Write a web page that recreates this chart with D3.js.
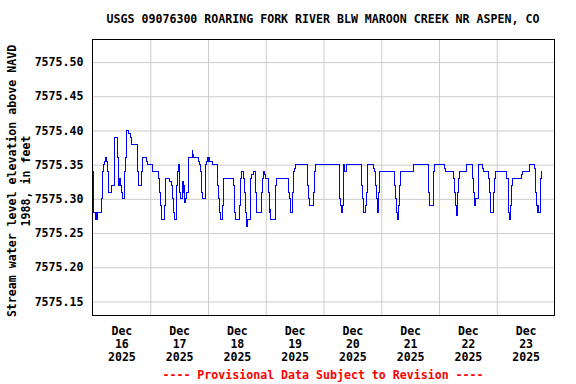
<!DOCTYPE html>
<html>
<head>
<meta charset="utf-8">
<script src="https://cdn.jsdelivr.net/npm/d3@7"></script>
<style>
  body { margin: 0; background: #fff; }
  text { font-family: "DejaVu Sans Mono", monospace; font-weight: bold; font-size: 11.6px; }
</style>
</head>
<body>
<div id="chart"></div>
<script>
// hours after Dec 16 2025 00:00 where the reading changes, and the reading (ft)
var obsHours = [
  0, 0.34, 0.62, 1.04, 1.31, 1.6, 1.87, 3.94, 4.08, 4.5, 5.05, 5.46, 5.88, 6.16, 6.57, 6.85,
  7.82, 9.34, 10.31, 10.72, 11.14, 11.55, 12.11, 12.52, 13.35, 13.77, 14.32, 15.01, 15.71, 16.12,
  18.61, 18.89, 19.03, 20.41, 20.69, 20.97, 22.49, 22.77, 24.98, 27.61, 27.89, 28.3, 28.58, 28.86,
  29.96, 30.24, 32.18, 33.0, 33.29, 33.56, 33.98, 34.95, 35.09, 35.36, 35.78, 36.06, 36.33, 36.75,
  37.3, 37.72, 37.99, 38.41, 38.82, 39.1, 39.79, 41.45, 41.73, 41.87, 42.01, 43.95, 44.36, 44.78,
  45.19, 45.61, 46.85, 47.13, 47.4, 47.96, 48.1, 48.51, 48.79, 49.9, 52.11, 52.39, 52.66, 53.08,
  54.05, 54.32, 58.48, 58.89, 59.17, 59.45, 61.1, 61.52, 62.08, 62.62, 62.9, 63.18, 63.45, 63.73,
  63.87, 64.15, 64.28, 65.53, 65.81, 66.22, 66.91, 67.88, 68.3, 70.37, 70.65, 70.93, 71.2, 71.62,
  71.9, 73.14, 73.42, 73.7, 73.97, 74.11, 76.19, 76.46, 81.45, 81.86, 82.14, 83.11, 83.38, 83.8,
  84.21, 89.2, 89.47, 89.75, 90.17, 91.83, 92.1, 92.52, 102.45, 102.72, 103.14, 103.42, 103.83,
  104.11, 104.39, 104.8, 105.49, 111.99, 112.41, 112.69, 113.38, 113.8, 114.21, 116.98, 117.39,
  117.67, 117.95, 118.36, 118.78, 119.06, 119.47, 125.7, 126.11, 126.43, 126.84, 127.26, 127.53,
  127.81, 128.09, 133.21, 139.44, 139.71, 140.13, 141.51, 141.65, 141.93, 146.08, 146.63, 150.09,
  150.51, 150.78, 151.2, 151.48, 151.89, 152.17, 152.58, 155.63, 158.12, 158.4, 158.82, 159.23,
  160.34, 160.62, 162.28, 162.69, 164.77, 165.04, 165.32, 165.6, 166.84, 167.12, 167.54, 172.24,
  172.79, 173.07, 173.35, 173.76, 174.04, 174.32, 174.59, 178.19, 178.88, 181.65, 183.73, 184.01,
  184.28, 184.56, 184.84, 185.25, 185.53, 186.08, 186.36, 186.64, 186.9
];
var obsLevels = [
  7575.34, 7575.31, 7575.28, 7575.27, 7575.28, 7575.27, 7575.28, 7575.30, 7575.34, 7575.35, 7575.355, 7575.36, 7575.355, 7575.34, 7575.32, 7575.31,
  7575.32, 7575.39, 7575.36, 7575.32, 7575.33, 7575.32, 7575.31, 7575.30, 7575.34, 7575.36, 7575.40, 7575.395, 7575.39, 7575.38,
  7575.35, 7575.34, 7575.32, 7575.34, 7575.355, 7575.36, 7575.355, 7575.35, 7575.34, 7575.33, 7575.31, 7575.29, 7575.28, 7575.27,
  7575.29, 7575.33, 7575.325, 7575.32, 7575.30, 7575.28, 7575.27, 7575.29, 7575.32, 7575.34, 7575.35, 7575.34, 7575.31, 7575.30,
  7575.325, 7575.31, 7575.32, 7575.295, 7575.30, 7575.31, 7575.36, 7575.37, 7575.36, 7575.365, 7575.36, 7575.355, 7575.35, 7575.34,
  7575.31, 7575.30, 7575.32, 7575.35, 7575.355, 7575.36, 7575.355, 7575.36, 7575.355, 7575.35, 7575.32, 7575.30, 7575.28, 7575.27,
  7575.29, 7575.33, 7575.32, 7575.30, 7575.28, 7575.27, 7575.29, 7575.33, 7575.34, 7575.335, 7575.33, 7575.31, 7575.29, 7575.28,
  7575.27, 7575.26, 7575.27, 7575.30, 7575.33, 7575.335, 7575.34, 7575.31, 7575.28, 7575.31, 7575.33, 7575.335, 7575.34, 7575.335,
  7575.33, 7575.31, 7575.29, 7575.28, 7575.285, 7575.27, 7575.32, 7575.33, 7575.31, 7575.30, 7575.28, 7575.31, 7575.34, 7575.345,
  7575.35, 7575.34, 7575.32, 7575.30, 7575.29, 7575.31, 7575.34, 7575.35, 7575.32, 7575.30, 7575.29, 7575.28, 7575.29,
  7575.34, 7575.35, 7575.34, 7575.35, 7575.32, 7575.30, 7575.28, 7575.29, 7575.31, 7575.35, 7575.345, 7575.34,
  7575.32, 7575.30, 7575.28, 7575.29, 7575.31, 7575.34, 7575.32, 7575.30, 7575.28, 7575.27, 7575.29, 7575.32,
  7575.335, 7575.34, 7575.35, 7575.33, 7575.31, 7575.29, 7575.31, 7575.34, 7575.35, 7575.345, 7575.34, 7575.33,
  7575.31, 7575.29, 7575.28, 7575.275, 7575.31, 7575.33, 7575.34, 7575.35, 7575.33, 7575.31, 7575.29, 7575.30,
  7575.32, 7575.35, 7575.345, 7575.34, 7575.33, 7575.31, 7575.30, 7575.28, 7575.31, 7575.33, 7575.34, 7575.33,
  7575.31, 7575.28, 7575.27, 7575.29, 7575.31, 7575.32, 7575.33, 7575.335, 7575.34, 7575.35, 7575.345, 7575.34,
  7575.31, 7575.29, 7575.28, 7575.29, 7575.28, 7575.30, 7575.33, 7575.34, 7575.34
];
var yTicks = [7575.15, 7575.20, 7575.25, 7575.30, 7575.35, 7575.40, 7575.45, 7575.50];
var dayLabels = ["16", "17", "18", "19", "20", "21", "22", "23"];
var titleText = "USGS 09076300 ROARING FORK RIVER BLW MAROON CREEK NR ASPEN, CO";
var yLabelLines = ["Stream water level elevation above NAVD", "1988, in feet"];
var footText = "---- Provisional Data Subject to Revision ----";

var svgWidth = 576, svgHeight = 384;
var margin = { top: 39, left: 92 };
var width = 462, height = 277;

var start = new Date(2025, 11, 16);
var hourMs = 3600 * 1000;
var data = obsHours.map(function(h, i) {
  return { t: new Date(+start + h * hourMs), v: obsLevels[i] };
});

var svg = d3.select("#chart").append("svg")
  .attr("width", svgWidth)
  .attr("height", svgHeight);

var chartGroup = svg.append("g")
  .attr("transform", `translate(${margin.left + 0.5}, ${margin.top + 0.5})`);

var xScale = d3.scaleTime()
  .domain([start, new Date(2025, 11, 24)])
  .range([0, width]);

var yScale = d3.scaleLinear()
  .domain([7575.128, 7575.533])
  .range([height, 0]);

// grid lines at each midnight
var midnights = d3.range(1, 8).map(function(d) { return new Date(2025, 11, 16 + d); });
var xGrid = chartGroup.append("g")
  .attr("transform", `translate(0, ${height})`)
  .call(d3.axisBottom(xScale).tickValues(midnights).tickSize(-height).tickFormat(""));
xGrid.select(".domain").remove();
xGrid.selectAll("line").attr("stroke", "#cccccc");

// y axis: grid + labels
var yAxis = chartGroup.append("g")
  .call(d3.axisLeft(yScale).tickValues(yTicks).tickSize(-width).tickPadding(9)
    .tickFormat(d3.format(".2f")));
yAxis.select(".domain").remove();
yAxis.selectAll("line").attr("stroke", "#cccccc");
yAxis.selectAll("text")
  .attr("fill", "black")
  .style("font-family", "'DejaVu Sans Mono', monospace")
  .style("font-size", "11.6px");

// x labels at noon of each day
var noons = dayLabels.map(function(d, i) { return new Date(2025, 11, 16 + i, 12); });
var xAxis = chartGroup.append("g")
  .attr("transform", `translate(0, ${height})`)
  .call(d3.axisBottom(xScale).tickValues(noons).tickSize(0).tickFormat(""));
xAxis.select(".domain").remove();
xAxis.selectAll(".tick text").each(function(d, i) {
  var t = d3.select(this).attr("y", 0).attr("dy", null)
    .attr("fill", "black")
    .style("font-family", "'DejaVu Sans Mono', monospace")
    .style("font-size", "11.6px");
  ["Dec", dayLabels[i], "2025"].forEach(function(s, k) {
    t.append("tspan").attr("x", 0).attr("y", 18 + k * 13).text(s);
  });
});

// the series
var line = d3.line()
  .x(function(d) { return xScale(d.t); })
  .y(function(d) { return yScale(d.v); })
  .curve(d3.curveStepAfter);

chartGroup.append("path")
  .datum(data)
  .attr("fill", "none")
  .attr("stroke", "#0000ff")
  .attr("stroke-width", 1)
  .attr("shape-rendering", "crispEdges")
  .attr("d", line);

// frame
chartGroup.append("rect")
  .attr("width", width)
  .attr("height", height - 1)
  .attr("fill", "none")
  .attr("stroke", "black");

// title
svg.append("text")
  .attr("x", margin.left + width / 2)
  .attr("y", 23)
  .attr("text-anchor", "middle")
  .text(titleText);

// y axis label
var yLab = svg.append("text")
  .attr("transform", "translate(16, 181) rotate(-90)")
  .attr("text-anchor", "middle");
yLabelLines.forEach(function(s, k) {
  yLab.append("tspan").attr("x", 0).attr("y", k * 14).text(s);
});

// footer
svg.append("text")
  .attr("x", margin.left + width / 2)
  .attr("y", 379)
  .attr("text-anchor", "middle")
  .attr("fill", "#ff0000")
  .text(footText);
</script>
</body>
</html>
